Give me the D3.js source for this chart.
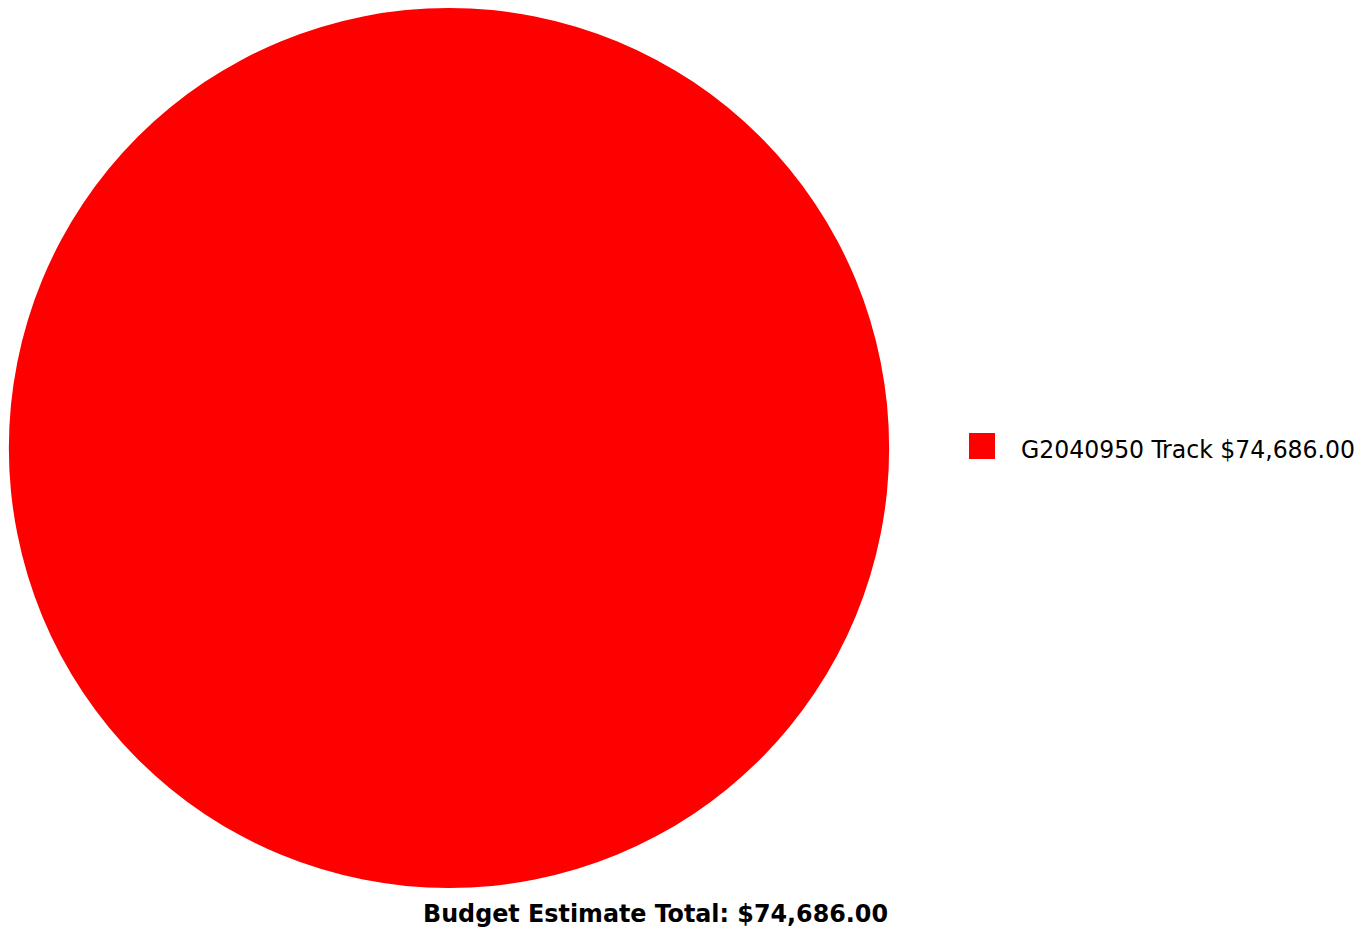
<!DOCTYPE html>
<html>
<head>
<meta charset="utf-8">
<script src="https://cdn.jsdelivr.net/npm/d3@7"></script>
<style>
  html, body { margin: 0; padding: 0; background: #fff; }
  svg { display: block; }
</style>
</head>
<body>
<svg id="chart" width="1359" height="928"></svg>
<script>
const categories = ["G2040950 Track"];
const values = [74686.00];
const colors = ["#ff0000"];
const titleText = "Budget Estimate Total: ";

const fmt = d3.format("$,.2f");
const total = d3.sum(values);

const svg = d3.select("#chart");
const cx = 449, cy = 448, r = 440;

const pie = d3.pie().sort(null).value(d => d.value);
const arc = d3.arc().innerRadius(0).outerRadius(r);
const data = categories.map((c, i) => ({ name: c, value: values[i], color: colors[i] }));

svg.append("g")
  .attr("transform", `translate(${cx},${cy})`)
  .selectAll("path")
  .data(pie(data))
  .join("path")
  .attr("d", arc)
  .attr("fill", d => d.data.color);

const legend = svg.append("g");
const items = legend.selectAll("g").data(data).join("g")
  .attr("transform", (d, i) => `translate(969,${433 + i * 40})`);
items.append("rect")
  .attr("width", 26).attr("height", 26)
  .attr("fill", d => d.color);
items.append("text")
  .attr("x", 52).attr("y", 25)
  .attr("font-family", "'DejaVu Sans Condensed', 'DejaVu Sans', sans-serif")
  .attr("font-size", 24)
  .attr("fill", "#000")
  .attr("textLength", 334)
  .attr("lengthAdjust", "spacingAndGlyphs")
  .text(d => `${d.name} ${fmt(d.value)}`);

svg.append("text")
  .attr("x", 423).attr("y", 922)
  .attr("font-family", "'DejaVu Sans Condensed', 'DejaVu Sans', sans-serif")
  .attr("font-weight", "bold")
  .attr("font-size", 24)
  .attr("fill", "#000")
  .attr("textLength", 465)
  .attr("lengthAdjust", "spacingAndGlyphs")
  .text(titleText + fmt(total));
</script>
</body>
</html>
